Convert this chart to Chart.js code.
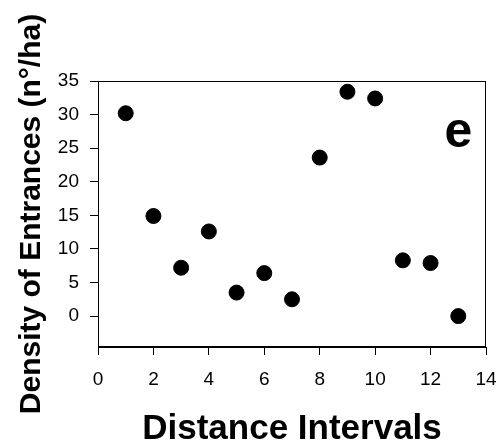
<!DOCTYPE html>
<html>
<head>
<meta charset="utf-8">
<script src="https://cdn.jsdelivr.net/npm/chart.js@4/dist/chart.umd.min.js"></script>
<style>
    body { margin: 0; background: #fff; }
    #wrap { width: 501px; height: 443px; }
</style>
</head>
<body>
<div id="wrap"><canvas id="scatterChart"></canvas></div>
<script>
// =====================
// DATA
// =====================
const intervals = [1, 2, 3, 4, 5, 6, 7, 8, 9, 10, 11, 12, 13];
const density = [30.2, 14.9, 7.2, 12.6, 3.5, 6.4, 2.5, 23.6, 33.4, 32.4, 8.3, 7.9, 0];
const yTicks = [0, 5, 10, 15, 20, 25, 30, 35];
const xTicks = [0, 2, 4, 6, 8, 10, 12, 14];
const panelLabel = "e";

const FONT = "'Liberation Sans', Arial, Helvetica, sans-serif";

let points = intervals.map(function (x, i) {
    return { x: x, y: density[i] };
});

// frame round the plot area + panel letter
const framePlugin = {
    id: "frame",
    afterDraw: function (chart) {
        const ctx = chart.ctx;
        const a = chart.chartArea;
        ctx.save();
        ctx.strokeStyle = "#000";
        ctx.lineWidth = 1;
        ctx.strokeRect(a.left + 0.5, a.top + 0.5, a.right - a.left - 1, a.bottom - a.top - 1);

        ctx.fillStyle = "#000";
        ctx.font = "bold 50px " + FONT;
        ctx.textAlign = "center";
        ctx.textBaseline = "alphabetic";
        ctx.fillText(panelLabel, chart.scales.x.getPixelForValue(13.0), chart.scales.y.getPixelForValue(25.2));
        ctx.restore();
    }
};

new Chart(document.getElementById("scatterChart"), {
    type: "scatter",
    data: {
        datasets: [{
            data: points,
            backgroundColor: "#000",
            borderColor: "#000",
            pointRadius: 7.5,
            pointHoverRadius: 7.5
        }]
    },
    options: {
        responsive: true,
        maintainAspectRatio: false,
        animation: false,
        layout: { padding: { left: 0, right: 15, top: 81, bottom: 0 } },
        plugins: {
            legend: { display: false },
            tooltip: { enabled: false }
        },
        scales: {
            x: {
                type: "linear",
                min: 0,
                max: 14,
                afterBuildTicks: function (s) { s.ticks = xTicks.map(function (v) { return { value: v }; }); },
                afterFit: function (s) {
                    s.height = 96;
                    s.paddingLeft = 0;
                    s.paddingRight = 0;
                },
                grid: { drawOnChartArea: false, drawTicks: true, tickLength: 8, color: "#000" },
                border: { color: "#000", width: 1 },
                ticks: { color: "#000", padding: 13, maxRotation: 0, font: { family: FONT, size: 19 } },
                title: {
                    display: true,
                    text: "Distance Intervals",
                    color: "#000",
                    padding: 0,
                    font: { family: FONT, size: 35, weight: "bold", lineHeight: 0.8 }
                }
            },
            y: {
                type: "linear",
                min: -4.6,
                max: 35,
                afterBuildTicks: function (s) { s.ticks = yTicks.map(function (v) { return { value: v }; }); },
                afterFit: function (s) {
                    s.width = 98;
                    s.paddingTop = 0;
                    s.paddingBottom = 0;
                },
                grid: { drawOnChartArea: false, drawTicks: true, tickLength: 8, color: "#000" },
                border: { color: "#000", width: 1 },
                ticks: { color: "#000", padding: 11, font: { family: FONT, size: 19 } },
                title: {
                    display: true,
                    text: "Density of Entrances (n°/ha)",
                    color: "#000",
                    padding: { top: 17, bottom: 0 },
                    font: { family: FONT, size: 30, weight: "bold", lineHeight: 1 }
                }
            }
        }
    },
    plugins: [framePlugin]
});
</script>
</body>
</html>
